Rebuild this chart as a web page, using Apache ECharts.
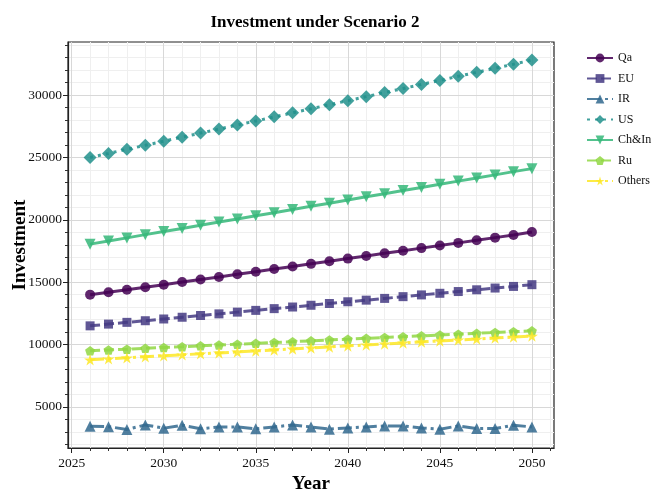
<!DOCTYPE html>
<html>
<head>
<meta charset="utf-8">
<script src="https://cdn.jsdelivr.net/npm/echarts@6/dist/echarts.min.js"></script>
<style>
  html, body { margin: 0; padding: 0; background: #fff; }
  #chart { width: 652px; height: 490px; }
</style>
</head>
<body>
<div id="chart"></div>
<script>
// Years on the horizontal axis
const years = [2026, 2027, 2028, 2029, 2030, 2031, 2032, 2033, 2034, 2035, 2036, 2037, 2038,
               2039, 2040, 2041, 2042, 2043, 2044, 2045, 2046, 2047, 2048, 2049, 2050];

// Investment per region, one value per year
const qa = [14000, 14190, 14390, 14600, 14800, 15010, 15220, 15420, 15630, 15840, 16050, 16260, 16470,
            16680, 16890, 17100, 17310, 17520, 17730, 17940, 18150, 18360, 18570, 18780, 19020];
const eu = [11500, 11640, 11780, 11910, 12050, 12190, 12330, 12460, 12600, 12740, 12880, 13010, 13150,
            13290, 13430, 13560, 13700, 13840, 13980, 14110, 14250, 14390, 14530, 14660, 14800];
const ir = [3450, 3420, 3200, 3560, 3300, 3530, 3250, 3400, 3400, 3250, 3400, 3560, 3400,
            3220, 3320, 3400, 3480, 3480, 3320, 3220, 3480, 3270, 3270, 3530, 3400];
const us = [25000, 25320, 25650, 25970, 26300, 26620, 26950, 27270, 27600, 27920, 28250, 28570, 28900,
            29220, 29550, 29870, 30200, 30520, 30850, 31170, 31500, 31820, 32150, 32470, 32800];
const chIn = [18050, 18300, 18550, 18810, 19060, 19310, 19570, 19820, 20070, 20320, 20570, 20830, 21080,
              21330, 21590, 21840, 22090, 22340, 22590, 22850, 23100, 23350, 23600, 23860, 24100];
const ru = [9500, 9570, 9630, 9700, 9770, 9830, 9900, 9970, 10030, 10100, 10170, 10230, 10300,
            10370, 10430, 10500, 10570, 10630, 10700, 10770, 10830, 10900, 10970, 11030, 11100];
const others = [8780, 8860, 8940, 9020, 9100, 9180, 9260, 9330, 9410, 9490, 9570, 9650, 9730,
                9810, 9890, 9970, 10050, 10130, 10210, 10290, 10370, 10440, 10520, 10600, 10680];

// Tick values
const xMajorTicks = [2025, 2030, 2035, 2040, 2045, 2050];
const xMinorTicks = [2026, 2027, 2028, 2029, 2031, 2032, 2033, 2034, 2036, 2037, 2038, 2039,
                     2041, 2042, 2043, 2044, 2046, 2047, 2048, 2049, 2051];
const yMajorTicks = [5000, 10000, 15000, 20000, 25000, 30000];
const yMinorTicks = [2000, 3000, 4000, 6000, 7000, 8000, 9000, 11000, 12000, 13000, 14000,
                     16000, 17000, 18000, 19000, 21000, 22000, 23000, 24000, 26000, 27000,
                     28000, 29000, 31000, 32000, 33000, 34000];

const FONT = '"Liberation Serif", "Times New Roman", serif';
const X_MIN = 2024.8, X_MAX = 2051.2;
const Y_MIN = 1710, Y_MAX = 34250;

const PENTAGON = 'path://M0,-1 L0.951,-0.309 L0.588,0.809 L-0.588,0.809 L-0.951,-0.309 Z';
const STAR = 'path://M0,-1 L0.2245,-0.309 L0.951,-0.309 L0.363,0.118 L0.588,0.809 L0,0.382 ' +
             'L-0.588,0.809 L-0.363,0.118 L-0.951,-0.309 L-0.2245,-0.309 Z';

const seriesDefs = [
  { name: 'Qa',     data: qa,     color: '#440154', symbol: 'circle',   size: 10, dash: 'solid' },
  { name: 'EU',     data: eu,     color: '#443983', symbol: 'rect',     size: 9,  dash: [10, 4] },
  { name: 'IR',     data: ir,     color: '#31688e', symbol: 'triangle', size: 11, dash: [14, 4, 3, 4] },
  { name: 'US',     data: us,     color: '#21918c', symbol: 'diamond',  size: 13, dash: [3, 5] },
  { name: 'Ch&In',  data: chIn,   color: '#35b779', symbol: 'triangle', size: 11, dash: 'solid', rotate: 180 },
  { name: 'Ru',     data: ru,     color: '#90d743', symbol: PENTAGON,   size: 10, dash: [10, 4] },
  { name: 'Others', data: others, color: '#fde725', symbol: STAR,       size: 12, dash: [14, 4, 3, 4] }
];

const series = seriesDefs.map(d => ({
  name: d.name,
  type: 'line',
  xAxisIndex: 0,
  yAxisIndex: 0,
  data: years.map((y, i) => [y, d.data[i]]),
  symbol: d.symbol,
  symbolSize: d.size,
  symbolRotate: d.rotate || 0,
  symbolKeepAspect: true,
  showAllSymbol: true,
  color: d.color,
  itemStyle: { color: d.color, opacity: 0.85 },
  lineStyle: { color: d.color, width: 3, type: d.dash, opacity: 0.85 },
  emphasis: { disabled: true },
  animation: false
}));

const chart = echarts.init(document.getElementById('chart'), null, { renderer: 'canvas' });

chart.setOption({
  backgroundColor: '#fff',
  animation: false,
  title: {
    text: 'Investment under Scenario 2',
    left: 310, top: 9, textAlign: 'center',
    textStyle: { fontFamily: FONT, fontSize: 17, fontWeight: 'bold', color: '#000' }
  },
  legend: {
    orient: 'vertical',
    left: 586, top: 52, padding: 0,
    itemWidth: 26, itemHeight: 11, itemGap: 8.5,
    textStyle: { fontFamily: FONT, fontSize: 12, color: '#111', width: 40, overflow: 'none' },
    data: seriesDefs.map(d => d.name)
  },
  grid: {
    left: 68, right: 98, top: 42, bottom: 42,
    outerBoundsMode: 'none',
    show: true, borderColor: '#222', borderWidth: 1.2, backgroundColor: 'transparent'
  },
  xAxis: [
    {
      type: 'value', min: X_MIN, max: X_MAX, position: 'bottom', z: 2,
      name: 'Year', nameLocation: 'middle', nameGap: 27, nameMoveOverlap: false,
      nameTextStyle: { fontFamily: FONT, fontSize: 19, fontWeight: 'bold', color: '#000' },
      axisLine: { show: true, lineStyle: { color: '#222', width: 1.2 } },
      axisTick: { show: true, length: 5, customValues: xMajorTicks, lineStyle: { color: '#222' } },
      axisLabel: { customValues: xMajorTicks, formatter: v => String(v), margin: 8,
                   fontFamily: FONT, fontSize: 13.5, color: '#111' },
      splitLine: { show: true, lineStyle: { color: '#d8d8d8', width: 1 } }
    },
    {
      type: 'value', min: X_MIN, max: X_MAX, position: 'bottom', z: 1,
      axisLine: { show: false },
      axisTick: { show: true, length: 3, customValues: xMinorTicks, lineStyle: { color: '#333' } },
      axisLabel: { show: false },
      splitLine: { show: true, lineStyle: { color: '#efefef', width: 1 } }
    }
  ],
  yAxis: [
    {
      type: 'value', min: Y_MIN, max: Y_MAX, position: 'left', z: 2,
      name: 'Investment', nameLocation: 'middle', nameGap: 38, nameRotate: 90, nameMoveOverlap: false,
      nameTextStyle: { fontFamily: FONT, fontSize: 19, fontWeight: 'bold', color: '#000' },
      axisLine: { show: true, lineStyle: { color: '#222', width: 1.2 } },
      axisTick: { show: true, length: 5, customValues: yMajorTicks, lineStyle: { color: '#222' } },
      axisLabel: { customValues: yMajorTicks, formatter: v => String(v), margin: 6,
                   fontFamily: FONT, fontSize: 13.5, color: '#111' },
      splitLine: { show: true, lineStyle: { color: '#d8d8d8', width: 1 } }
    },
    {
      type: 'value', min: Y_MIN, max: Y_MAX, position: 'left', z: 1,
      axisLine: { show: false },
      axisTick: { show: true, length: 3, customValues: yMinorTicks, lineStyle: { color: '#333' } },
      axisLabel: { show: false },
      splitLine: { show: true, lineStyle: { color: '#efefef', width: 1 } }
    }
  ],
  series: series
});
</script>
</body>
</html>
